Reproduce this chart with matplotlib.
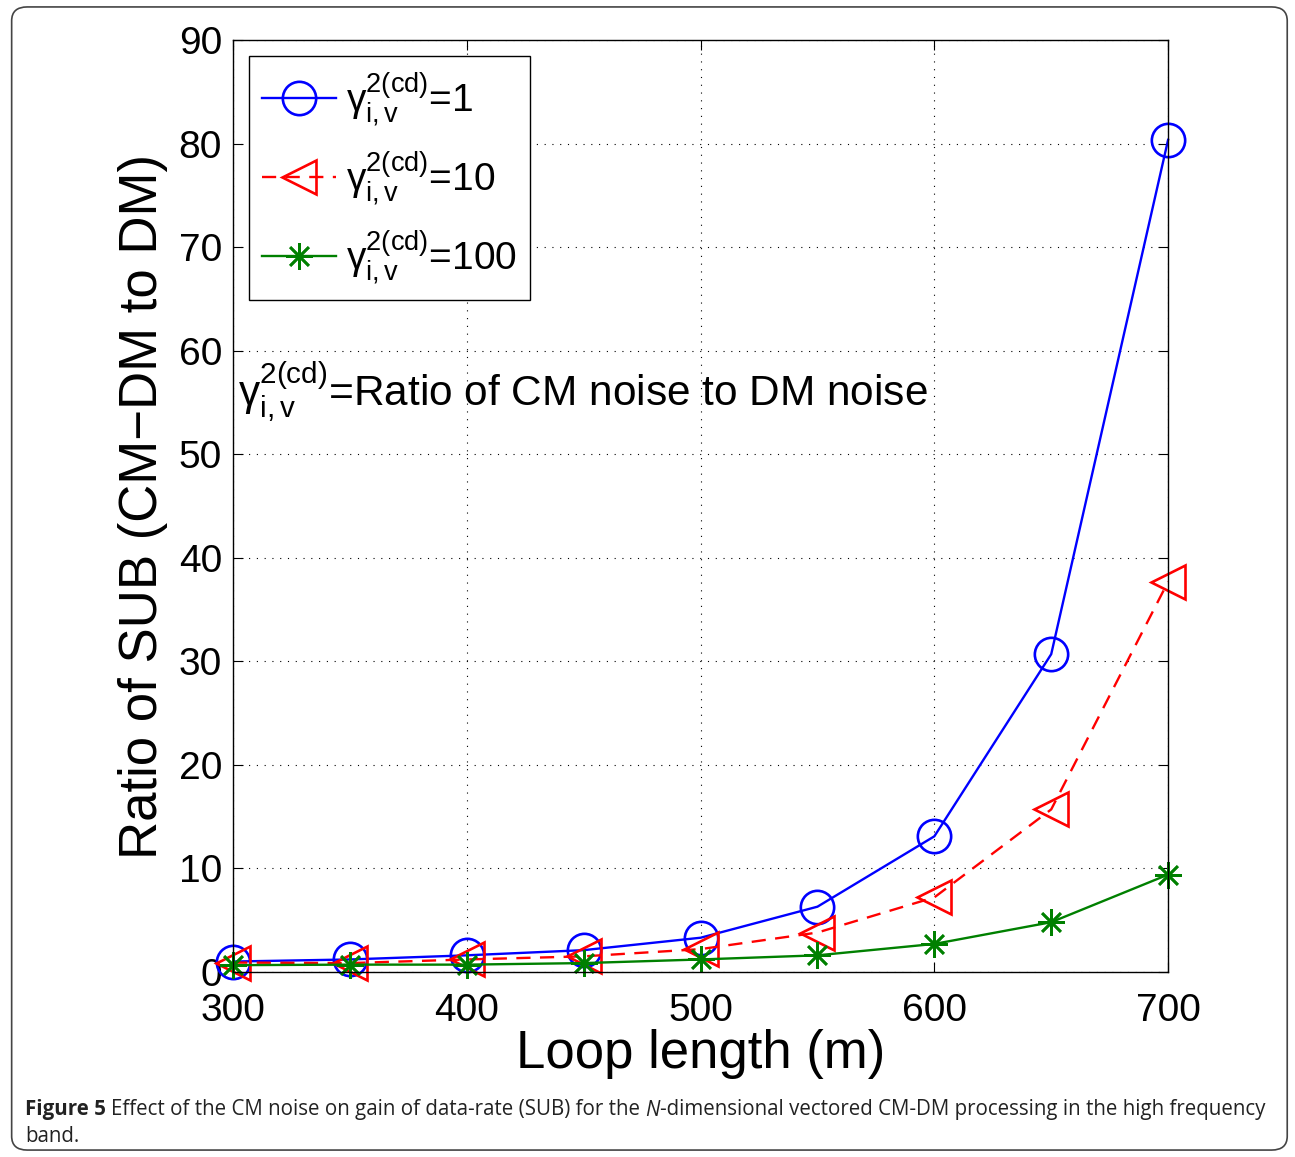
import numpy as np
import matplotlib
matplotlib.use("Agg")
import matplotlib.pyplot as plt
from matplotlib.patches import FancyBboxPatch

plt.rcParams['font.family'] = ['Liberation Sans', 'DejaVu Sans']
plt.rcParams['mathtext.fontset'] = 'custom'
plt.rcParams['mathtext.rm'] = 'Liberation Sans'
plt.rcParams['mathtext.it'] = 'Liberation Sans:italic'

# data
loop_len = [300, 350, 400, 450, 500, 550, 600, 650, 700]
gamma_1 = [1.0, 1.2, 1.6, 2.1, 3.3, 6.3, 13.1, 30.7, 80.4]
gamma_10 = [0.9, 0.85, 1.2, 1.5, 2.2, 3.8, 7.2, 15.7, 37.7]
gamma_100 = [0.65, 0.7, 0.7, 0.85, 1.2, 1.6, 2.7, 4.8, 9.4]

lbl = r'$\mathregular{γ^{2(cd)}_{i,v}}$'

fig = plt.figure(figsize=(12.95, 11.57), dpi=100)
ax = fig.add_axes([0.180, 0.160, 0.722, 0.805])

ax.plot(loop_len, gamma_1, '-', color='blue', lw=1.7, marker='o', ms=24,
        mfc='none', mew=1.9, label=lbl + '=1', clip_on=False)
ax.plot(loop_len, gamma_10, '--', color='red', lw=1.7, marker='<', ms=24,
        mfc='none', mew=1.9, dashes=(6, 4), label=lbl + '=10', clip_on=False)
ax.plot(loop_len, gamma_100, '-', color='green', lw=1.7, marker=(8, 2, 0), ms=19,
        mew=1.9, label=lbl + '=100', clip_on=False)

ax.set_xlim(300, 700)
ax.set_ylim(0, 90)
ax.set_xticks(np.arange(300, 701, 100))
ax.set_yticks(np.arange(0, 91, 10))
ax.tick_params(direction='in', top=True, right=True, labelsize=28, length=7)
ax.tick_params(axis='x', pad=15)
ax.tick_params(axis='y', pad=8)
ax.grid(True, linestyle=(0, (1, 6)), color='black', lw=0.8)
for s in ax.spines.values():
    s.set_linewidth(1.0)

ax.set_xlabel('Loop length (m)', fontsize=38, labelpad=0)
ax.set_ylabel('Ratio of SUB (CM\u2212DM to DM)', fontsize=38, labelpad=8)

leg = ax.legend(loc='upper left', fontsize=28, handlelength=1.9, handletextpad=0.25,
                borderpad=0.35, labelspacing=0.55, fancybox=False, framealpha=1,
                edgecolor='black', bbox_to_anchor=(0.0, 1.0),
                borderaxespad=0.4)
leg.get_frame().set_linewidth(1.0)

ax.text(302, 56, lbl + '=Ratio of CM noise to DM noise', fontsize=30.5,
        va='center', ha='left')

# rounded border around figure
fig.patches.append(FancyBboxPatch((0.009, 0.006), 0.985, 0.988,
                                  boxstyle='round,pad=0,rounding_size=0.012',
                                  transform=fig.transFigure, fill=False,
                                  edgecolor='#444444', lw=1.2))

# caption
fig.canvas.draw()
r = fig.canvas.get_renderer()
cap_fs = 14.8
parts = [('Figure 5 ', 'bold', 'normal'),
         ('Effect of the CM noise on gain of data-rate (SUB) for the ', 'normal', 'normal'),
         ('N', 'normal', 'italic'),
         ('-dimensional vectored CM-DM processing in the high frequency', 'normal', 'normal')]
x0 = 25 / 1295
y1 = 1 - 1110 / 1157
x = x0
for s, w, st in parts:
    t = fig.text(x, y1, s, fontsize=cap_fs, fontweight=w, fontstyle=st,
                 family='Open Sans', va='center', ha='left', color='#222222')
    bb = t.get_window_extent(r)
    x += bb.width / fig.bbox.width
fig.text(x0, 1 - 1136 / 1157, 'band.', fontsize=cap_fs, family='Open Sans',
         va='center', ha='left', color='#222222')

fig.savefig('out.png', dpi=100)
